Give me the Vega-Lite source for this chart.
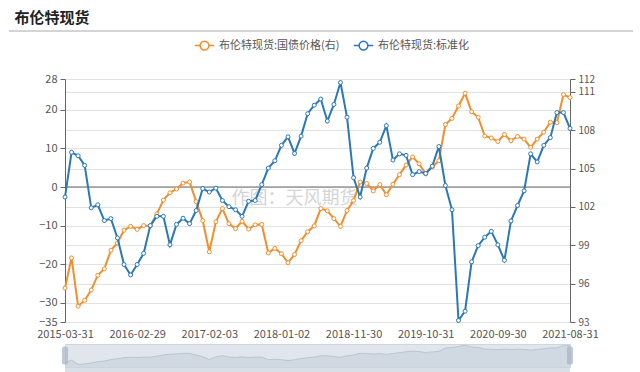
{
"$schema": "https://vega.github.io/schema/vega-lite/v6.json",
"background": "white",
"padding": {"left": 8, "right": 8, "top": 10, "bottom": 4},
"config": {"font": "Noto Sans CJK SC", "view": {"stroke": null}, "axis": {"labelFont": "Noto Sans CJK SC", "labelFontSize": 11, "labelColor": "#555555"}},
"title": {"text": "布伦特现货", "anchor": "start", "frame": "bounds", "dx": 6, "fontSize": 15, "fontWeight": "bold", "color": "#222222", "offset": 5},
"datasets": {"s": [
{"date": "2015-03-31", "std": -2.6, "bond": 95.65},
{"date": "2015-04-30", "std": 9.0, "bond": 98.01},
{"date": "2015-05-31", "std": 8.1, "bond": 94.24},
{"date": "2015-06-30", "std": 5.6, "bond": 94.69},
{"date": "2015-07-31", "std": -5.4, "bond": 95.50},
{"date": "2015-08-31", "std": -4.6, "bond": 96.65},
{"date": "2015-09-30", "std": -8.7, "bond": 97.16},
{"date": "2015-10-31", "std": -8.2, "bond": 98.61},
{"date": "2015-11-30", "std": -13.2, "bond": 99.18},
{"date": "2015-12-31", "std": -20.1, "bond": 100.18},
{"date": "2016-01-31", "std": -22.8, "bond": 100.48},
{"date": "2016-02-29", "std": -20.1, "bond": 100.24},
{"date": "2016-03-31", "std": -17.2, "bond": 100.54},
{"date": "2016-04-30", "std": -10.0, "bond": 100.51},
{"date": "2016-05-31", "std": -7.6, "bond": 101.44},
{"date": "2016-06-30", "std": -7.6, "bond": 102.53},
{"date": "2016-07-31", "std": -15.0, "bond": 103.10},
{"date": "2016-08-31", "std": -9.7, "bond": 103.40},
{"date": "2016-09-30", "std": -8.1, "bond": 103.86},
{"date": "2016-10-31", "std": -9.5, "bond": 103.95},
{"date": "2016-11-30", "std": -6.1, "bond": 102.41},
{"date": "2016-12-31", "std": -0.4, "bond": 100.93},
{"date": "2017-02-03", "std": -1.3, "bond": 98.49},
{"date": "2017-02-28", "std": -0.3, "bond": 100.84},
{"date": "2017-03-31", "std": -3.5, "bond": 101.87},
{"date": "2017-04-30", "std": -5.1, "bond": 100.69},
{"date": "2017-05-31", "std": -5.9, "bond": 100.30},
{"date": "2017-06-30", "std": -7.6, "bond": 100.87},
{"date": "2017-07-31", "std": -3.7, "bond": 100.27},
{"date": "2017-08-31", "std": -3.5, "bond": 100.60},
{"date": "2017-09-30", "std": 0.6, "bond": 100.63},
{"date": "2017-10-31", "std": 4.9, "bond": 98.40},
{"date": "2017-11-30", "std": 6.8, "bond": 98.76},
{"date": "2018-01-02", "std": 10.8, "bond": 98.34},
{"date": "2018-01-31", "std": 13.0, "bond": 97.64},
{"date": "2018-02-28", "std": 8.7, "bond": 98.28},
{"date": "2018-03-31", "std": 13.2, "bond": 99.36},
{"date": "2018-04-30", "std": 19.0, "bond": 100.06},
{"date": "2018-05-31", "std": 21.2, "bond": 100.51},
{"date": "2018-06-30", "std": 22.8, "bond": 101.87},
{"date": "2018-07-31", "std": 17.1, "bond": 101.69},
{"date": "2018-08-31", "std": 21.4, "bond": 101.08},
{"date": "2018-09-30", "std": 27.1, "bond": 100.48},
{"date": "2018-10-31", "std": 18.1, "bond": 101.72},
{"date": "2018-11-30", "std": 2.4, "bond": 102.50},
{"date": "2018-12-31", "std": -2.6, "bond": 103.95},
{"date": "2019-01-31", "std": 4.9, "bond": 103.83},
{"date": "2019-02-28", "std": 10.0, "bond": 103.25},
{"date": "2019-03-31", "std": 11.6, "bond": 103.74},
{"date": "2019-04-30", "std": 15.9, "bond": 102.95},
{"date": "2019-05-31", "std": 7.0, "bond": 103.77},
{"date": "2019-06-30", "std": 8.6, "bond": 104.52},
{"date": "2019-07-31", "std": 8.2, "bond": 105.27},
{"date": "2019-08-31", "std": 3.2, "bond": 105.91},
{"date": "2019-09-30", "std": 4.0, "bond": 105.37},
{"date": "2019-10-31", "std": 3.5, "bond": 104.58},
{"date": "2019-11-30", "std": 5.4, "bond": 105.12},
{"date": "2019-12-31", "std": 10.5, "bond": 105.61},
{"date": "2020-01-31", "std": 0.4, "bond": 108.44},
{"date": "2020-02-29", "std": -5.9, "bond": 108.92},
{"date": "2020-03-31", "std": -34.6, "bond": 109.89},
{"date": "2020-04-30", "std": -32.2, "bond": 110.88},
{"date": "2020-05-31", "std": -19.4, "bond": 109.44},
{"date": "2020-06-30", "std": -15.2, "bond": 109.01},
{"date": "2020-07-31", "std": -13.0, "bond": 107.54},
{"date": "2020-08-31", "std": -11.5, "bond": 107.39},
{"date": "2020-09-30", "std": -15.0, "bond": 107.11},
{"date": "2020-10-31", "std": -19.0, "bond": 107.66},
{"date": "2020-11-30", "std": -8.8, "bond": 107.17},
{"date": "2020-12-31", "std": -4.8, "bond": 107.51},
{"date": "2021-01-31", "std": -1.0, "bond": 107.30},
{"date": "2021-02-28", "std": 8.6, "bond": 106.66},
{"date": "2021-03-31", "std": 6.5, "bond": 107.30},
{"date": "2021-04-30", "std": 10.8, "bond": 107.84},
{"date": "2021-05-31", "std": 12.8, "bond": 108.62},
{"date": "2021-06-30", "std": 19.3, "bond": 108.59},
{"date": "2021-07-31", "std": 19.3, "bond": 110.79},
{"date": "2021-08-31", "std": 15.2, "bond": 110.55}
]},
"spacing": 4,
"vconcat": [
{
 "width": 568, "height": 38,
 "data": {"values": [{}]},
 "mark": {"type": "rule", "color": "#aaaaaa", "strokeWidth": 1},
 "encoding": {
  "x": {"datum": 0, "type": "quantitative", "scale": {"domain": [0, 1], "range": [-56, 568]}, "axis": null},
  "x2": {"datum": 1},
  "y": {"datum": 1, "type": "quantitative", "scale": {"domain": [0, 1]}, "axis": null}
 }
},
{
 "width": 505, "height": 243,
 "data": {"name": "s"},
 "layer": [
  {
   "layer": [
    {
     "data": {"values": [{}]},
     "mark": {"type": "text", "text": "作图：天风期货", "fontSize": 18, "color": "#d4d4d4", "align": "center", "baseline": "middle"},
     "encoding": {
      "x": {"datum": "2018-02-28", "type": "ordinal", "axis": {"values": ["2015-03-31", "2016-02-29", "2017-02-03", "2018-01-02", "2018-11-30", "2019-10-31", "2020-09-30", "2021-08-31"], "labelAngle": 0, "labelAlign": "center", "labelBaseline": "top", "ticks": false, "domain": false, "grid": false, "title": null, "labelPadding": 6, "labelOverlap": false}},
      "y": {"datum": -3, "type": "quantitative", "scale": {"domain": [-35, 28], "nice": false, "zero": false}, "axis": null}
     }
    },
    {
     "data": {"values": [{}]},
     "mark": {"type": "rule", "color": "#666666", "strokeWidth": 1},
     "encoding": {
      "y": {"datum": 0, "type": "quantitative", "scale": {"domain": [-35, 28], "nice": false, "zero": false}, "axis": null}
     }
    }
   ]
  },
  {
   "mark": {"type": "line", "strokeWidth": 2, "point": {"filled": false, "fill": "white", "size": 16, "strokeWidth": 1}},
   "encoding": {
    "x": {"field": "date", "type": "ordinal", "scale": {"type": "point", "padding": 0}, "axis": {"values": ["2015-03-31", "2016-02-29", "2017-02-03", "2018-01-02", "2018-11-30", "2019-10-31", "2020-09-30", "2021-08-31"], "labelAngle": 0, "labelAlign": "center", "labelBaseline": "top", "ticks": false, "domain": false, "grid": false, "title": null, "labelPadding": 6, "labelOverlap": false}},
    "y": {"field": "bond", "type": "quantitative", "scale": {"domain": [93, 112], "nice": false, "zero": false}, "axis": {"orient": "right", "values": [112, 111, 108, 105, 102, 99, 96, 93], "title": null, "grid": true, "gridColor": "#e2e2e2", "domainColor": "#666666", "tickColor": "#666666", "tickSize": 5, "labelOverlap": false, "labelPadding": 3, "labelFontSize": 10}},
    "color": {"datum": "布伦特现货:国债价格(右)", "type": "nominal", "scale": {"domain": ["布伦特现货:国债价格(右)", "布伦特现货:标准化"], "range": ["#f28e2b", "#2b78b8"]}, "legend": {"title": null, "orient": "none", "legendX": 129, "legendY": 4, "direction": "horizontal", "symbolType": "M-1,0H-0.45M0.45,0H1M0.45,0A0.45,0.45,0,1,1,-0.45,0A0.45,0.45,0,1,1,0.45,0", "symbolSize": 380, "symbolStrokeWidth": 1.5, "symbolFillColor": "white", "labelFontSize": 11, "labelColor": "#555555", "columnPadding": 10, "labelOffset": 4}}
   }
  },
  {
   "mark": {"type": "line", "strokeWidth": 2, "point": {"filled": false, "fill": "white", "size": 16, "strokeWidth": 1}},
   "encoding": {
    "x": {"field": "date", "type": "ordinal", "scale": {"type": "point", "padding": 0}, "axis": {"values": ["2015-03-31", "2016-02-29", "2017-02-03", "2018-01-02", "2018-11-30", "2019-10-31", "2020-09-30", "2021-08-31"], "labelAngle": 0, "labelAlign": "center", "labelBaseline": "top", "ticks": false, "domain": false, "grid": false, "title": null, "labelPadding": 6, "labelOverlap": false}},
    "y": {"field": "std", "type": "quantitative", "scale": {"domain": [-35, 28], "nice": false, "zero": false}, "axis": {"orient": "left", "values": [28, 20, 10, 0, -10, -20, -30, -35], "title": null, "grid": true, "gridColor": "#e2e2e2", "domainColor": "#666666", "tickColor": "#666666", "tickSize": 5, "labelOverlap": false, "labelPadding": 3, "minExtent": 56}},
    "color": {"datum": "布伦特现货:标准化", "type": "nominal"}
   }
  }
 ],
 "resolve": {"scale": {"y": "independent"}}
},
{
 "width": 505, "height": 23,
 "data": {"name": "s"},
 "view": {"fill": "#e1e6ed", "stroke": "#cfd6df"},
 "layer": [
  {
   "mark": {"type": "area", "color": "#c9d1dc", "line": {"color": "#b3bfcc", "strokeWidth": 0.8}},
   "encoding": {
    "x": {"field": "date", "type": "ordinal", "scale": {"type": "point", "padding": 0}, "axis": null},
    "y": {"field": "bond", "type": "quantitative", "scale": {"domain": [92, 112], "nice": false, "zero": false}, "axis": {"title": null, "labels": false, "ticks": false, "grid": false, "domainOpacity": 0, "minExtent": 56}}
   }
  },
  {
   "transform": [{"filter": "datum.date == '2015-03-31' || datum.date == '2021-08-31'"}],
   "mark": {"type": "tick", "orient": "vertical", "color": "#a5b3c4", "size": 18, "thickness": 6, "cornerRadius": 2},
   "encoding": {"x": {"field": "date", "type": "ordinal"}}
  }
 ]
}
]
}
